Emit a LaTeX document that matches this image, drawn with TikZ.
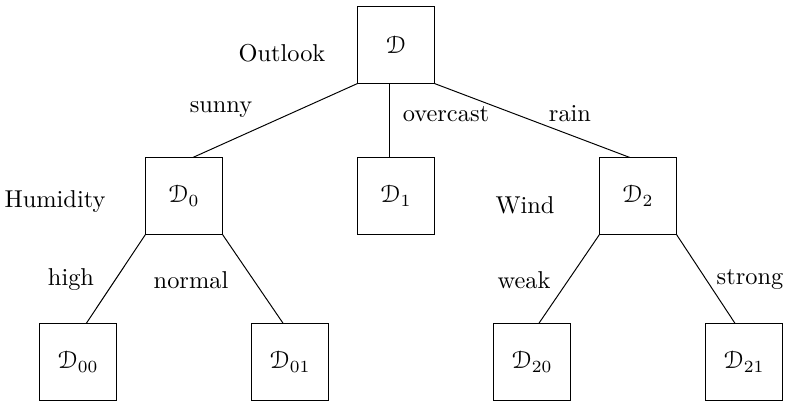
\documentclass[tikz,border=0pt]{standalone}
\usepackage[mathcal]{eucal}
\begin{document}
\begin{tikzpicture}[x=0.41pt,y=-0.41pt,
  box/.style={draw,minimum size=31.2pt,inner sep=0pt}]
\useasboundingbox (0,0) rectangle (788,401);
% tree nodes
\node[box] (D) at (396,45) {$\mathcal{D}$};
\node[box] (D0) at (184,196) {$\mathcal{D}_0$};
\node[box] (D1) at (396,196) {$\mathcal{D}_1$};
\node[box] (D2) at (638,196) {$\mathcal{D}_2$};
\node[box] (D00) at (78,362) {$\mathcal{D}_{00}$};
\node[box] (D01) at (290,362) {$\mathcal{D}_{01}$};
\node[box] (D20) at (532,362) {$\mathcal{D}_{20}$};
\node[box] (D21) at (744,362) {$\mathcal{D}_{21}$};
% attributes
\node (outlook) at (282,53) {Outlook};
\node (humidity) at (55,202) {Humidity};
\node (wind) at (525,205) {Wind};
% branches
\draw (D.south west) -- (D0.77); %sunny
\draw (D.-100) -- (D1.100); %overcast
\draw (D.south east) -- (D2.102); %rain
\draw (D0.south west) -- (D00.78);
\draw (D0.south east) -- (D01.100);
\draw (D2.south west) -- (D20.80);
\draw (D2.south east) -- (D21.103);
\node (sunny) at (221,110) {sunny};
\node (overcast) at (446,114) {overcast};
\node (rain) at (570,114) {rain};
\node (high) at (71,280) {high};
\node (normal) at (191,280) {normal};
\node (weak) at (524,280) {weak};
\node (strong) at (750,280) {strong};
\end{tikzpicture}
\end{document}
